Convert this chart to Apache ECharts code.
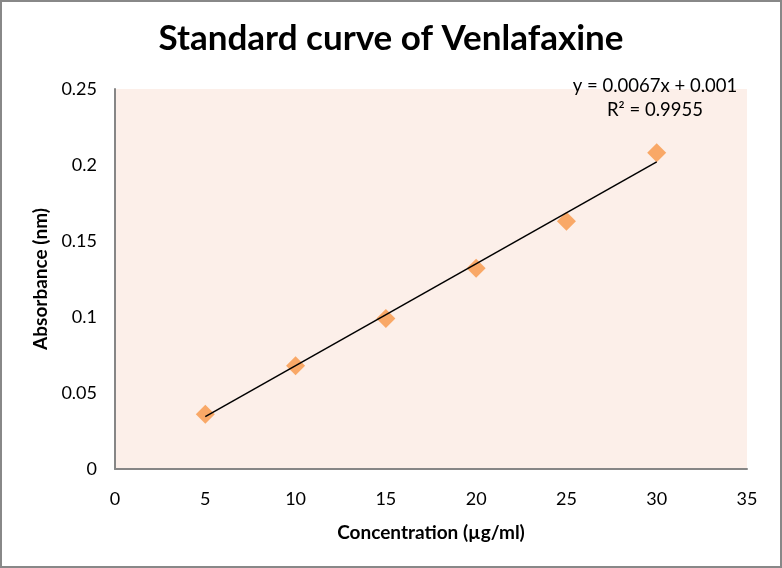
<!DOCTYPE html>
<html>
<head>
<meta charset="utf-8">
<script src="https://cdn.jsdelivr.net/npm/echarts@6/dist/echarts.min.js"></script>
<style>
html, body { margin: 0; padding: 0; background: #fff; }
#chart { width: 782px; height: 568px; box-sizing: border-box; border: 2px solid #888; }
</style>
</head>
<body>
<div id="chart"></div>
<script>
// concentration (µg/ml) and absorbance
var conc = [5, 10, 15, 20, 25, 30];
var absorb = [0.036, 0.068, 0.099, 0.132, 0.163, 0.208];
// linear trendline end points
var trendX = [5, 30];
var trendY = [0.0345, 0.202];
var eqLines = ['y = 0.0067x + 0.001', 'R\u00b2 = 0.9955'];

var font = 'Lato, "Open Sans", sans-serif';
var chart = echarts.init(document.getElementById('chart'));

var points = conc.map(function (x, i) { return [x, absorb[i]]; });
var trend = trendX.map(function (x, i) { return [x, trendY[i]]; });

var option = {
    animation: false,
    title: {
        text: 'Standard curve of Venlafaxine',
        left: 'center',
        top: 14,
        textStyle: { fontFamily: font, fontSize: 35, fontWeight: 'bold', color: '#000' }
    },
    grid: { left: 113, right: 33, top: 87, bottom: 97, show: true, backgroundColor: '#fcefe9', borderWidth: 0 },
    xAxis: {
        type: 'value',
        min: 0, max: 35, interval: 5,
        name: 'Concentration (\u00b5g/ml)',
        nameLocation: 'middle',
        nameGap: 54,
        nameTextStyle: { fontFamily: font, fontSize: 19, fontWeight: 'bold', color: '#000' },
        axisLine: { lineStyle: { color: '#868686', width: 2 } },
        axisTick: { show: false },
        splitLine: { show: false },
        axisLabel: { fontFamily: font, fontSize: 18, color: '#000', margin: 21 }
    },
    yAxis: {
        type: 'value',
        min: 0, max: 0.25, interval: 0.05,
        name: 'Absorbance (nm)',
        nameLocation: 'middle',
        nameGap: 62,
        nameTextStyle: { fontFamily: font, fontSize: 19, fontWeight: 'bold', color: '#000' },
        axisLine: { show: true, lineStyle: { color: '#868686', width: 2 } },
        axisTick: { show: false },
        splitLine: { show: false },
        axisLabel: { fontFamily: font, fontSize: 18, color: '#000', margin: 18 }
    },
    graphic: [
        { type: 'text', x: 653, y: 84, style: { text: eqLines[0], font: '18.5px ' + font, fill: '#000', align: 'center', verticalAlign: 'middle' } },
        { type: 'text', x: 653, y: 108, style: { text: eqLines[1], font: '18.5px ' + font, fill: '#000', align: 'center', verticalAlign: 'middle' } }
    ],
    series: [
        {
            type: 'line',
            data: trend,
            symbol: 'none',
            lineStyle: { color: '#000', width: 1.5 },
            z: 3
        },
        {
            type: 'scatter',
            data: points,
            symbol: 'diamond',
            symbolSize: 19,
            itemStyle: { color: '#f79646' },
            z: 2
        }
    ]
};
chart.setOption(option);
</script>
</body>
</html>
